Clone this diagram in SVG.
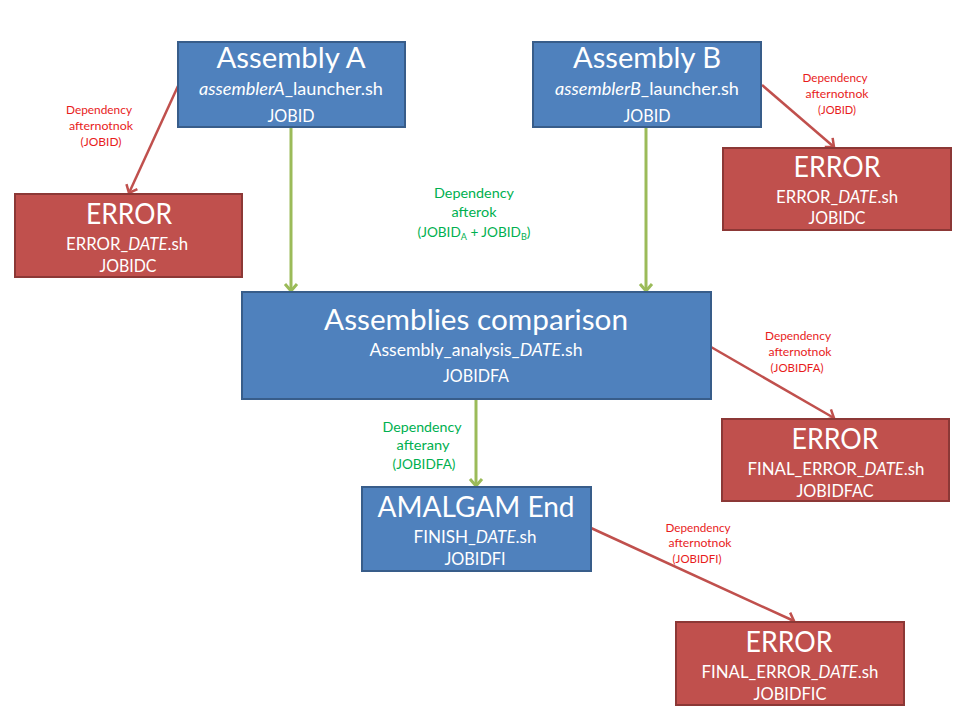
<svg xmlns="http://www.w3.org/2000/svg" width="960" height="720" viewBox="0 0 960 720">
<style>
text{font-family:Lato,"Liberation Sans",sans-serif;fill:#fff;text-anchor:middle}
.blue{fill:#4F81BD;stroke:#385D8A;stroke-width:2}
.red{fill:#C0504D;stroke:#8C3836;stroke-width:2}
.t{font-size:28px}
.s{font-size:16.5px}
.g{stroke:#9BBB59;stroke-width:3;fill:none}
.r{stroke:#C0504D;stroke-width:2.5;fill:none}
.lr{fill:#E81C1C;font-size:11px}
.lg{fill:#00B050;font-size:13.5px}
</style>
<defs>
<marker id="ag" markerUnits="userSpaceOnUse" markerWidth="16" markerHeight="16" refX="10" refY="8" orient="auto">
<path d="M3,2 L10,8 L3,14" fill="none" stroke="#9BBB59" stroke-width="3"/>
</marker>
<marker id="ar" markerUnits="userSpaceOnUse" markerWidth="16" markerHeight="16" refX="10" refY="8" orient="auto">
<path d="M3,2 L10,8 L3,14" fill="none" stroke="#C0504D" stroke-width="2.5"/>
</marker>
</defs>
<rect width="960" height="720" fill="#fff"/>
<g id="connectors">
<line class="g" x1="291" y1="128" x2="291" y2="291" marker-end="url(#ag)"/>
<line class="g" x1="646" y1="128" x2="646" y2="291" marker-end="url(#ag)"/>
<line class="g" x1="476" y1="400" x2="476" y2="486" marker-end="url(#ag)"/>
<line class="r" x1="178" y1="86" x2="129" y2="193" marker-end="url(#ar)"/>
<line class="r" x1="762" y1="85" x2="834" y2="147" marker-end="url(#ar)"/>
<line class="r" x1="711" y1="347" x2="834" y2="418" marker-end="url(#ar)"/>
<line class="r" x1="591" y1="528" x2="794" y2="621" marker-end="url(#ar)"/>
<text class="lr" x="99" y="114" textLength="66" lengthAdjust="spacingAndGlyphs">Dependency</text>
<text class="lr" x="101" y="130" textLength="64" lengthAdjust="spacingAndGlyphs">afternotnok</text>
<text class="lr" x="101" y="146" textLength="41" lengthAdjust="spacingAndGlyphs">(JOBID)</text>
<text class="lr" x="835" y="82" textLength="65" lengthAdjust="spacingAndGlyphs">Dependency</text>
<text class="lr" x="837" y="98" textLength="63" lengthAdjust="spacingAndGlyphs">afternotnok</text>
<text class="lr" x="837" y="114" textLength="38" lengthAdjust="spacingAndGlyphs">(JOBID)</text>
<text class="lg" x="474" y="198" textLength="80" lengthAdjust="spacingAndGlyphs">Dependency</text>
<text class="lg" x="474" y="217" textLength="45" lengthAdjust="spacingAndGlyphs">afterok</text>
<text class="lg" x="474" y="237" textLength="113" lengthAdjust="spacingAndGlyphs">(JOBID<tspan font-size="9" dy="3">A</tspan><tspan dy="-3"> + JOBID</tspan><tspan font-size="9" dy="3">B</tspan><tspan dy="-3">)</tspan></text>
<text class="lr" x="798" y="340" textLength="66" lengthAdjust="spacingAndGlyphs">Dependency</text>
<text class="lr" x="800" y="356" textLength="63" lengthAdjust="spacingAndGlyphs">afternotnok</text>
<text class="lr" x="797" y="372" textLength="53" lengthAdjust="spacingAndGlyphs">(JOBIDFA)</text>
<text class="lg" x="422" y="432" textLength="79" lengthAdjust="spacingAndGlyphs">Dependency</text>
<text class="lg" x="423" y="450" textLength="53" lengthAdjust="spacingAndGlyphs">afterany</text>
<text class="lg" x="424" y="469" textLength="63" lengthAdjust="spacingAndGlyphs">(JOBIDFA)</text>
<text class="lr" x="698" y="532" textLength="65" lengthAdjust="spacingAndGlyphs">Dependency</text>
<text class="lr" x="700" y="547" textLength="63" lengthAdjust="spacingAndGlyphs">afternotnok</text>
<text class="lr" x="697" y="563" textLength="49" lengthAdjust="spacingAndGlyphs">(JOBIDFI)</text>
</g>
<g id="assemblyA">
<rect class="blue" x="178" y="42" width="227" height="85"/>
<text class="t" x="291" y="68" textLength="149" lengthAdjust="spacingAndGlyphs">Assembly A</text>
<text class="s" x="291" y="95" textLength="184" lengthAdjust="spacingAndGlyphs"><tspan font-style="italic">assemblerA</tspan>_launcher.sh</text>
<text class="s" x="291" y="122" textLength="47" lengthAdjust="spacingAndGlyphs">JOBID</text>
</g>
<g id="assemblyB">
<rect class="blue" x="533" y="42" width="228" height="85"/>
<text class="t" x="647" y="68" textLength="148" lengthAdjust="spacingAndGlyphs">Assembly B</text>
<text class="s" x="647" y="95" textLength="184" lengthAdjust="spacingAndGlyphs"><tspan font-style="italic">assemblerB</tspan>_launcher.sh</text>
<text class="s" x="647" y="122" textLength="47" lengthAdjust="spacingAndGlyphs">JOBID</text>
</g>
<g id="errorA">
<rect class="red" x="15" y="194" width="227" height="83"/>
<text class="t" x="129" y="224" textLength="86" lengthAdjust="spacingAndGlyphs">ERROR</text>
<text class="s" x="127" y="250" textLength="122" lengthAdjust="spacingAndGlyphs">ERROR_<tspan font-style="italic">DATE</tspan>.sh</text>
<text class="s" x="128" y="272" textLength="57" lengthAdjust="spacingAndGlyphs">JOBIDC</text>
</g>
<g id="errorB">
<rect class="red" x="723" y="148" width="228" height="82"/>
<text class="t" x="837" y="177" textLength="87" lengthAdjust="spacingAndGlyphs">ERROR</text>
<text class="s" x="837" y="203" textLength="122" lengthAdjust="spacingAndGlyphs">ERROR_<tspan font-style="italic">DATE</tspan>.sh</text>
<text class="s" x="837" y="224" textLength="57" lengthAdjust="spacingAndGlyphs">JOBIDC</text>
</g>
<g id="comparison">
<rect class="blue" x="242" y="292" width="469" height="107"/>
<text class="t" x="476" y="330" textLength="304" lengthAdjust="spacingAndGlyphs">Assemblies comparison</text>
<text class="s" x="476" y="356" textLength="213" lengthAdjust="spacingAndGlyphs">Assembly_analysis_<tspan font-style="italic">DATE</tspan>.sh</text>
<text class="s" x="476" y="382" textLength="66" lengthAdjust="spacingAndGlyphs">JOBIDFA</text>
</g>
<g id="errorFA">
<rect class="red" x="722" y="419" width="227" height="82"/>
<text class="t" x="835" y="449" textLength="87" lengthAdjust="spacingAndGlyphs">ERROR</text>
<text class="s" x="836" y="475" textLength="177" lengthAdjust="spacingAndGlyphs">FINAL_ERROR_<tspan font-style="italic">DATE</tspan>.sh</text>
<text class="s" x="835" y="497" textLength="77" lengthAdjust="spacingAndGlyphs">JOBIDFAC</text>
</g>
<g id="amalgamEnd">
<rect class="blue" x="362" y="487" width="229" height="84"/>
<text class="t" x="476" y="517" textLength="197" lengthAdjust="spacingAndGlyphs">AMALGAM End</text>
<text class="s" x="475" y="543" textLength="123" lengthAdjust="spacingAndGlyphs">FINISH_<tspan font-style="italic">DATE</tspan>.sh</text>
<text class="s" x="475" y="565" textLength="61" lengthAdjust="spacingAndGlyphs">JOBIDFI</text>
</g>
<g id="errorFI">
<rect class="red" x="676" y="622" width="228" height="83"/>
<text class="t" x="789" y="652" textLength="87" lengthAdjust="spacingAndGlyphs">ERROR</text>
<text class="s" x="790" y="678" textLength="177" lengthAdjust="spacingAndGlyphs">FINAL_ERROR_<tspan font-style="italic">DATE</tspan>.sh</text>
<text class="s" x="790" y="700" textLength="73" lengthAdjust="spacingAndGlyphs">JOBIDFIC</text>
</g>
</svg>
